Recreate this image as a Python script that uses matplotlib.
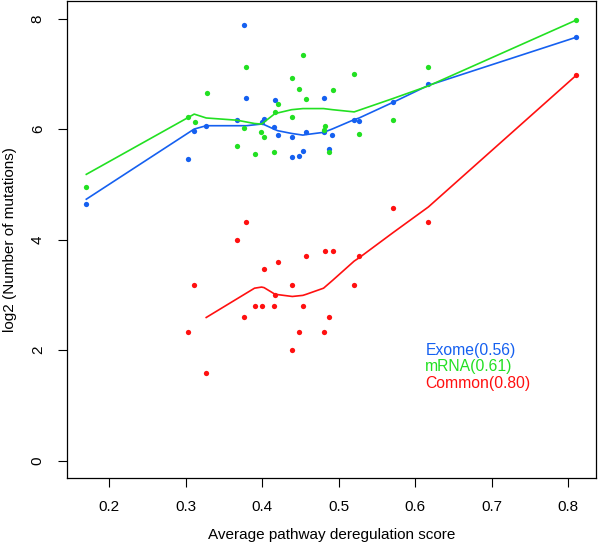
import matplotlib
matplotlib.use("Agg")
import matplotlib.pyplot as plt

plt.rcParams['font.family'] = ['Liberation Sans', 'DejaVu Sans']

# scores and log2 mutation counts
exome_x = [0.17, 0.3025, 0.311, 0.3267, 0.3667, 0.3767, 0.379, 0.399, 0.4023, 0.4153,
           0.4166, 0.420, 0.4383, 0.4392, 0.4475, 0.453, 0.4575, 0.480, 0.481, 0.4865,
           0.4913, 0.52, 0.5265, 0.5703, 0.617, 0.81]
exome_y = [4.64, 5.46, 5.97, 6.06, 6.17, 7.88, 6.56, 6.13, 6.19, 6.03,
           6.53, 5.90, 5.85, 5.49, 5.52, 5.61, 5.94, 5.94, 6.56, 5.64,
           5.90, 6.17, 6.15, 6.49, 6.81, 7.66]

mrna_x = [0.17, 0.3025, 0.3116, 0.3272, 0.3667, 0.3767, 0.379, 0.3898, 0.3989, 0.4023,
          0.4153, 0.4166, 0.4203, 0.4383, 0.4392, 0.4479, 0.453, 0.4575, 0.480, 0.4818,
          0.4865, 0.4917, 0.52, 0.5265, 0.5703, 0.617, 0.81]
mrna_y = [4.95, 6.22, 6.12, 6.65, 5.70, 6.02, 7.12, 5.55, 5.94, 5.85,
          5.58, 6.31, 6.46, 6.22, 6.93, 6.73, 7.34, 6.55, 5.98, 6.06,
          5.58, 6.70, 7.00, 5.91, 6.16, 7.13, 7.97]

common_x = [0.3025, 0.311, 0.3267, 0.3667, 0.3767, 0.379, 0.3898, 0.399, 0.4023, 0.4153,
            0.4166, 0.4203, 0.4383, 0.4392, 0.4475, 0.453, 0.4575, 0.480, 0.4818, 0.4865,
            0.4917, 0.52, 0.5265, 0.5703, 0.617, 0.81]
common_y = [2.32, 3.17, 1.58, 4.00, 2.59, 4.32, 2.80, 2.80, 3.46, 2.80,
            3.00, 3.59, 2.00, 3.17, 2.32, 2.80, 3.70, 2.32, 3.80, 2.59,
            3.80, 3.17, 3.70, 4.58, 4.32, 6.97]

# smoothed curves (lowess)
exome_fit_x = [0.17, 0.311, 0.3267, 0.379, 0.399, 0.4023, 0.4166, 0.42, 0.4383, 0.453,
               0.4575, 0.48, 0.4913, 0.52, 0.5265, 0.5703, 0.617, 0.81]
exome_fit_y = [4.73, 6.00, 6.06, 6.06, 6.09, 6.08, 5.99, 5.97, 5.92, 5.89,
               5.90, 5.94, 6.00, 6.17, 6.20, 6.48, 6.79, 7.66]

mrna_fit_x = [0.17, 0.311, 0.3267, 0.3667, 0.3898, 0.399, 0.4166, 0.4383, 0.453, 0.48,
              0.4917, 0.52, 0.5703, 0.617, 0.81]
mrna_fit_y = [5.18, 6.27, 6.20, 6.16, 6.10, 6.09, 6.28, 6.35, 6.37, 6.37,
              6.35, 6.31, 6.55, 6.78, 7.97]

common_fit_x = [0.3267, 0.3898, 0.399, 0.4023, 0.4166, 0.4392, 0.453, 0.4575, 0.48, 0.4917,
                0.52, 0.5265, 0.5703, 0.617, 0.81]
common_fit_y = [2.59, 3.12, 3.14, 3.13, 3.01, 2.97, 2.99, 3.01, 3.12, 3.26,
                3.61, 3.67, 4.12, 4.59, 6.97]

labels = ["Exome(0.56)", "mRNA(0.61)", "Common(0.80)"]
colors = ["#1560f0", "#22e022", "#ff1010"]

fig = plt.figure(figsize=(6.0, 5.45), dpi=100)
ax = fig.add_axes([0.1112, 0.1224, 0.8816, 0.8761])

series = [(exome_x, exome_y, exome_fit_x, exome_fit_y),
          (mrna_x, mrna_y, mrna_fit_x, mrna_fit_y),
          (common_x, common_y, common_fit_x, common_fit_y)]
for (x, y, fx, fy), c in zip(series, colors):
    ax.plot(x, y, 'o', color=c, ms=3.8, mew=0)
    ax.plot(fx, fy, '-', color=c, lw=1.2)

ax.set_xlim(0.1444, 0.8356)
ax.set_ylim(-0.32, 8.32)
ax.set_xticks([0.2, 0.3, 0.4, 0.5, 0.6, 0.7, 0.8])
ax.set_xticklabels(["0.2", "0.3", "0.4", "0.5", "0.6", "0.7", "0.8"])
ax.set_yticks([0, 2, 4, 6, 8])
ax.set_yticklabels(["0", "2", "4", "6", "8"], rotation=90, va='center')
ax.tick_params(direction='out', length=6.8, width=0.8, labelsize=11, pad=9)
for s in ax.spines.values():
    s.set_linewidth(0.9)

ax.set_xlabel("Average pathway deregulation score", fontsize=11, labelpad=10)
ax.set_ylabel("log2 (Number of mutations)", fontsize=11, labelpad=10)

for i, (lab, c) in enumerate(zip(labels, colors)):
    ax.text(0.613, 2.00 - i * 0.30, lab, color=c, fontsize=11.3, va='center', ha='left')

fig.savefig("out.png", dpi=100)
